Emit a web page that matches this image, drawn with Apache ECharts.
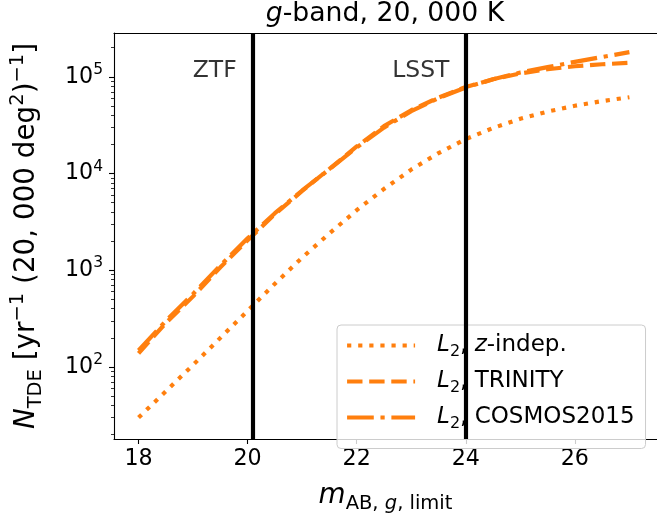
<!DOCTYPE html>
<html><head><meta charset="utf-8">
<script src="https://cdn.jsdelivr.net/npm/echarts@6/dist/echarts.min.js"></script>
<style>html,body{margin:0;padding:0;background:#fff}#c{width:657px;height:519px}</style>
</head><body><div id="c"></div>
<script>
// ---- data ----
const mags = [18, 18.5, 19, 19.5, 20, 20.5, 21, 21.5, 22, 22.5, 23, 23.5, 24, 24.5, 25, 25.5, 26, 26.5, 27];
const zIndep = [30, 56, 105, 200, 381, 726, 1352, 2404, 4178, 6934, 10990, 16260, 22700, 29580, 36810, 43750, 50230, 56100, 61520];
const trinity = [138, 285, 537, 1072, 2042, 3800, 6600, 11200, 19050, 30900, 45200, 61000, 78500, 94400, 108400, 119700, 128800, 134900, 139600];
const cosmos = [148, 299, 569, 1122, 2138, 3890, 6683, 11090, 18620, 29850, 44160, 60260, 77620, 94400, 110900, 125900, 142900, 160300, 179900];
const seriesNames = ['z-indep.', 'TRINITY', 'COSMOS2015'];
const surveyNames = ['ZTF', 'LSST'];
const surveyLimits = [20.1, 24.0];
const xTicks = [18, 20, 22, 24, 26];
const yTickExponents = [2, 3, 4, 5];

// ---- layout / style constants ----
const X_MIN = 17.55, X_MAX = 27.506;
const Y_MIN_VAL = 18.0, Y_MAX_VAL = 284000;
const LABEL_Y_VAL = 115000, LABEL_DX = 0.3;
const C1 = '#ff7f0e';
const FF = 'DejaVu Sans';
const LW = 4.17;

const lg = Math.log10;
const yMin = lg(Y_MIN_VAL), yMax = lg(Y_MAX_VAL);
const minorTicks = [];
for (let e = 1; e <= 5; e++) for (let k = 2; k <= 9; k++) {
  const v = lg(k) + e;
  if (v > yMin && v < yMax) minorTicks.push(v);
}
const toPts = arr => mags.map((m, i) => [m, lg(arr[i])]);

const legendLabels = {
  'z-indep.': '{it|L}{sub|2}{n|, }{it|z}{n|-indep.}',
  'TRINITY': '{it|L}{sub|2}{n|, TRINITY}',
  'COSMOS2015': '{it|L}{sub|2}{n|, COSMOS2015}'
};
const dashes = {
  'z-indep.': [4.2, 6.9],
  'TRINITY': [15.4, 6.7],
  'COSMOS2015': [26.7, 6.7, 4.2, 6.7]
};
const seriesData = { 'z-indep.': zIndep, 'TRINITY': trinity, 'COSMOS2015': cosmos };

const chart = echarts.init(document.getElementById('c'), null, { renderer: 'canvas' });
const curveSeries = seriesNames.map(n => ({
  name: n, type: 'line', data: toPts(seriesData[n]), showSymbol: false, symbol: 'none',
  smooth: false, z: 3, xAxisIndex: 0, yAxisIndex: 0,
  lineStyle: { color: C1, width: LW, type: dashes[n], cap: 'butt' },
  itemStyle: { color: C1 }
}));

const LF = 23;
const option = {
  animation: false,
  backgroundColor: '#fff',
  textStyle: { fontFamily: FF },
  title: {
    text: '{it|g}{n|-band, 20, 000 K}', left: 380, top: -6, textAlign: 'center',
    textStyle: {
      fontWeight: 'normal',
      rich: {
        it: { fontFamily: FF, fontSize: 26.7, fontStyle: 'italic', fontWeight: 'normal', color: '#000', lineHeight: 30 },
        n: { fontFamily: FF, fontSize: 26.7, fontWeight: 'normal', color: '#000', lineHeight: 30 }
      }
    }
  },
  grid: { left: 100, top: 33, width: 562, height: 417, show: false },
  xAxis: [{
    type: 'value', min: X_MIN, max: X_MAX,
    axisLine: { show: true, lineStyle: { color: '#000', width: 1.1 } },
    axisTick: { show: true, customValues: xTicks, length: 5, lineStyle: { color: '#000', width: 1.1 } },
    axisLabel: { customValues: xTicks, fontSize: 22.2, color: '#000', fontFamily: FF, margin: 9 },
    splitLine: { show: false },
    name: '{it|m}{sub|AB, }{subit|g}{sub|, limit}', nameLocation: 'middle', nameGap: 39,
    nameTextStyle: {
      rich: {
        it: { fontFamily: FF, fontSize: 27.8, fontStyle: 'italic', color: '#000', lineHeight: 36, verticalAlign: 'middle' },
        sub: { fontFamily: FF, fontSize: 19.5, color: '#000', lineHeight: 36, verticalAlign: 'bottom' },
        subit: { fontFamily: FF, fontSize: 19.5, fontStyle: 'italic', color: '#000', lineHeight: 36, verticalAlign: 'bottom' }
      }
    }
  }, {
    type: 'value', min: X_MIN, max: X_MAX, position: 'top',
    axisLine: { show: true, lineStyle: { color: '#000', width: 1.1 } },
    axisTick: { show: false }, axisLabel: { show: false }, splitLine: { show: false }
  }],
  yAxis: [{
    type: 'value', min: yMin, max: yMax, position: 'left',
    axisLine: { show: true, lineStyle: { color: '#000', width: 1.1 } },
    axisTick: { show: true, customValues: yTickExponents, length: 5, lineStyle: { color: '#000', width: 1.1 } },
    axisLabel: {
      customValues: yTickExponents, margin: 11, color: '#000',
      formatter: v => '{b|10}{s|' + Math.round(v) + '}',
      rich: {
        b: { fontFamily: FF, fontSize: 22.2, color: '#000', lineHeight: 30, verticalAlign: 'middle' },
        s: { fontFamily: FF, fontSize: 15.5, color: '#000', lineHeight: 30, verticalAlign: 'top' }
      }
    },
    splitLine: { show: false },
    name: '{it|N}{sub|TDE}{n| [yr}{sup|−1}{n| (20, 000 deg}{sup|2}{n|)}{sup|−1}{n|]}',
    nameLocation: 'middle', nameRotate: 90, nameGap: 68,
    nameTextStyle: {
      rich: {
        it: { fontFamily: FF, fontSize: 27.8, fontStyle: 'italic', color: '#000', lineHeight: 38, verticalAlign: 'middle' },
        n: { fontFamily: FF, fontSize: 27.8, color: '#000', lineHeight: 38, verticalAlign: 'middle' },
        sub: { fontFamily: FF, fontSize: 19.5, color: '#000', lineHeight: 38, verticalAlign: 'bottom' },
        sup: { fontFamily: FF, fontSize: 19.5, color: '#000', lineHeight: 38, verticalAlign: 'top' }
      }
    }
  }, {
    type: 'value', min: yMin, max: yMax, position: 'left', offset: 0,
    axisLine: { show: false },
    axisTick: { show: true, customValues: minorTicks, length: 3, lineStyle: { color: '#000', width: 0.8 } },
    axisLabel: { show: false },
    splitLine: { show: false }
  }],
  legend: {
    data: seriesNames, orient: 'vertical', left: 337, top: 325,
    itemWidth: 68, itemHeight: 1, itemGap: 10.5, selectedMode: false,
    padding: [9, 11, 17, 8],
    backgroundColor: 'rgba(255,255,255,0.8)', borderColor: '#cccccc', borderWidth: 1, borderRadius: 4,
    lineStyle: { width: LW, type: 'inherit', cap: 'butt' },
    formatter: n => legendLabels[n],
    textStyle: {
      padding: [0, 0, 0, 17], width: 200, overflow: 'none',
      rich: {
        it: { fontFamily: FF, fontSize: LF, fontStyle: 'italic', color: '#000', lineHeight: 28, verticalAlign: 'middle' },
        n: { fontFamily: FF, fontSize: LF, color: '#000', lineHeight: 28, verticalAlign: 'middle' },
        sub: { fontFamily: FF, fontSize: 16, color: '#000', lineHeight: 28, verticalAlign: 'bottom' }
      }
    }
  },
  series: [{
    name: 'surveys', type: 'scatter', z: 1, symbolSize: 0, silent: true,
    data: surveyNames.map((n, i) => ({ name: n, value: [surveyLimits[i] - LABEL_DX, lg(LABEL_Y_VAL)] })),
    label: { show: true, position: 'left', distance: 0, formatter: p => p.name, fontFamily: FF, fontSize: 23.5, color: '#000' },
    markLine: {
      silent: true, symbol: ['none', 'none'], label: { show: false },
      lineStyle: { color: '#000', width: LW, type: 'solid' },
      data: surveyLimits.map(v => ({ xAxis: v }))
    }
  }].concat(curveSeries)
};
chart.setOption(option);
</script>
</body></html>
